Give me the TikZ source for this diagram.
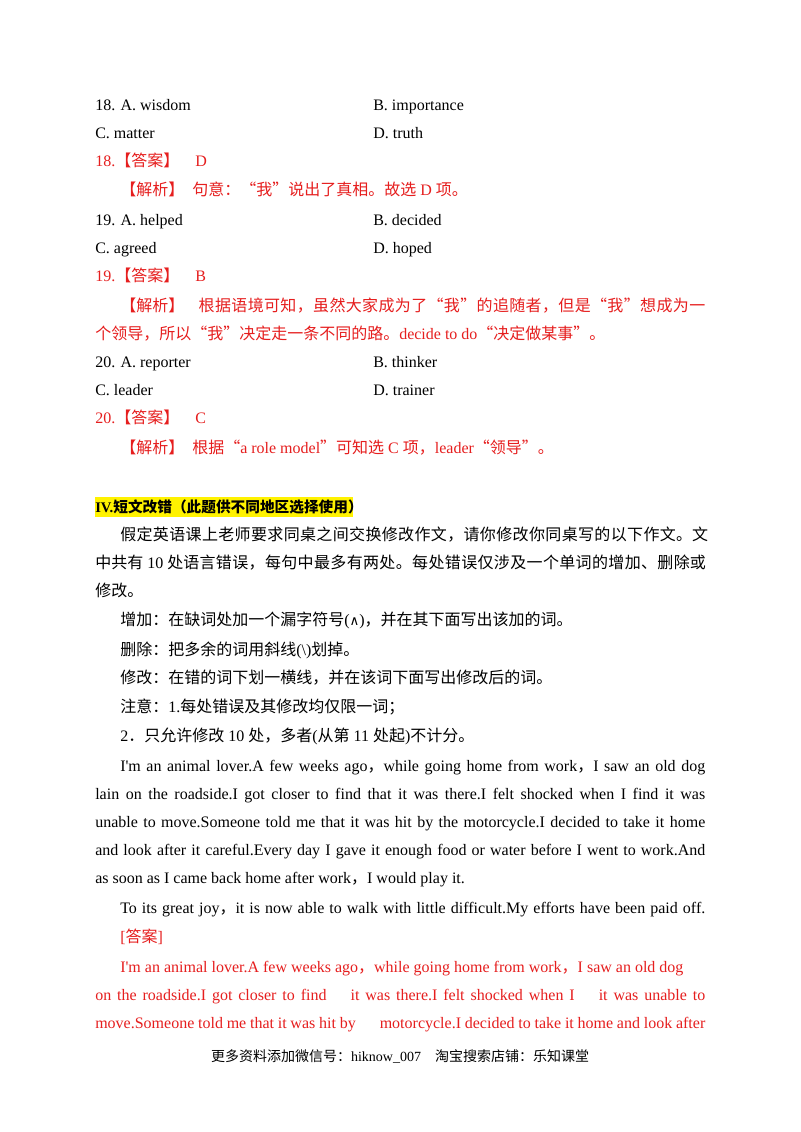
\documentclass[tikz,border=0pt]{standalone}
\usepackage{fontspec}
\setmainfont{Liberation Serif}
\newfontfamily\cjkf{Noto Sans CJK SC}
\newfontfamily\cjkw[LetterSpace=2.2]{Noto Sans CJK SC}
\newfontfamily\djv{DejaVu Sans}
\newcommand\zh[1]{{\cjkf #1}}
\newcommand\zw[1]{{\cjkw #1}}
\newcommand\ap{\textquotesingle}
\definecolor{ansred}{RGB}{230,30,30}
\newcommand\jl[1]{\makebox[438.75pt][s]{#1}}
\newcommand\jlb[1]{\makebox[457.5pt][s]{#1}}
\begin{document}
\begin{tikzpicture}[x=0.75pt,y=-0.75pt,
  tx/.style={anchor=base west,inner sep=0pt,font=\fontsize{12pt}{14pt}\selectfont},
  red/.style={tx,text=ansred}]
\useasboundingbox[fill=white] (0,0) rectangle (800,1132);
\node[tx] (a1) at (95,110) {18. A. wisdom};
\node[tx] (b1) at (373,110) {B. importance};
\node[tx] (a2) at (95,138) {C. matter};
\node[tx] (b2) at (373,138) {D. truth};
\node[red] (r1) at (95,166) {18.\zh{【答案】}\quad D};
\node[red] (r2) at (120,195) {\zh{【解析】}\enspace\zh{句意：“我”说出了真相。故选} D \zh{项。}};
\node[tx] (a3) at (95,225) {19. A. helped};
\node[tx] (b3) at (373,225) {B. decided};
\node[tx] (a4) at (95,253) {C. agreed};
\node[tx] (b4) at (373,253) {D. hoped};
\node[red] (r3) at (95,281) {19.\zh{【答案】}\quad B};
\node[red] (r4) at (120,311) {\jl{\zh{【解析】}\hfill\zw{根据语境可知，虽然大家成为了“我”的追随者，但是“我”想成为一}}};
\node[red] (r5) at (95,339) {\zh{个领导，所以“我”决定走一条不同的路。}decide to do\zh{“决定做某事”。}};
\node[tx] (a5) at (95,367) {20. A. reporter};
\node[tx] (b5) at (373,367) {B. thinker};
\node[tx] (a6) at (95,395) {C. leader};
\node[tx] (b6) at (373,395) {D. trainer};
\node[red] (r6) at (95,423) {20.\zh{【答案】}\quad C};
\node[red] (r7) at (120,453) {\zh{【解析】}\enspace\zh{根据“}a role model\zh{”可知选} C \zh{项，}leader\zh{“领导”。}};
\fill[yellow] (95,497) rectangle (353,517);
\node[tx,font=\fontsize{11pt}{13pt}\bfseries] (h) at (95,512) {IV.\zh{\bfseries 短文改错（此题供不同地区选择使用）}};
\node[tx] (p1) at (120,540) {\jl{\zw{假定英语课上老师要求同桌之间交换修改作文，请你修改你同桌写的以下作文。}\hfill\zh{文}}};
\node[tx] (p2) at (95,568) {\jlb{\mbox{\zh{中共有} 10 \zh{处}}\hfill\zw{语言错误，每句中最多有两处。每处错误仅涉及一个单词的增加、删除}\hfill\zh{或}}};
\node[tx] (p3) at (95,596) {\zh{修改。}};
\node[tx] (p4) at (120,625) {\zh{增加：在缺词处加一个漏字符号}({\djv\fontsize{10pt}{12pt}\selectfont ∧})\zh{，并在其下面写出该加的词。}};
\node[tx] (p5) at (120,655) {\zh{删除：把多余的词用斜线}(\textbackslash)\zh{划掉。}};
\node[tx] (p6) at (120,683) {\zh{修改：在错的词下划一横线，并在该词下面写出修改后的词。}};
\node[tx] (p7) at (120,712) {\zh{注意：}1.\zh{每处错误及其修改均仅限一词；}};
\node[tx] (p8) at (120,741) {2\zh{．只允许修改} 10 \zh{处，多者}(\zh{从第} 11 \zh{处起})\zh{不计分。}};
\node[tx] (e1) at (120,771) {\jl{I\ap m an animal lover.A few weeks ago\zh{，}while going home from work\zh{，}I saw an old dog}};
\node[tx] (e2) at (95,799) {\jlb{lain on the roadside.I got closer to find that it was there.I felt shocked when I find it was}};
\node[tx] (e3) at (95,827) {\jlb{unable to move.Someone told me that it was hit by the motorcycle.I decided to take it home}};
\node[tx] (e4) at (95,855) {\jlb{and look after it careful.Every day I gave it enough food or water before I went to work.And}};
\node[tx] (e5) at (95,883) {as soon as I came back home after work\zh{，}I would play it.};
\node[tx] (e6) at (120,913) {\jl{To its great joy\zh{，}it is now able to walk with little difficult.My efforts have been paid off.}};
\node[red] (k0) at (120,942) {[\zh{答案}]};
\node[red] (k1) at (120,972) {I\ap m an animal lover.A few weeks ago\zh{，}while going home from work\zh{，}I saw an old dog};
\node[red] (k2) at (95,1000) {\jlb{on the roadside.I got closer to \mbox{find \hspace{1em} it} was there.I felt shocked when \mbox{I \hspace{1em} it} was unable to}};
\node[red] (k3) at (95,1028) {\jlb{move.Someone told me that it was hit \mbox{by \hspace{1em} motorcycle.I} decided to take it home and look after}};
\node[anchor=base,inner sep=0pt,font=\fontsize{10.5pt}{12pt}\selectfont] (f) at (400,1061) {\zh{更多资料添加微信号：}hiknow\_007\quad\zh{淘宝搜索店铺：乐知课堂}};
\end{tikzpicture}
\end{document}
